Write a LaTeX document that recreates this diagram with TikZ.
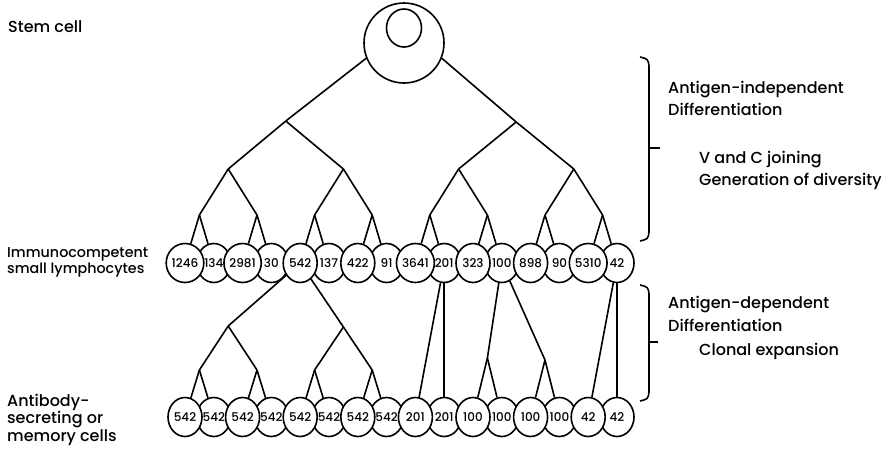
\documentclass[tikz,border=0pt]{standalone}
\usepackage{fontspec}
\setmainfont{Poppins Medium}
\usetikzlibrary{shapes.geometric}
\begin{document}
\begin{tikzpicture}[x=1pt,y=-1pt,
  cell/.style={ellipse,draw,line width=1.6pt,fill=white,minimum width=34pt,minimum height=39pt,inner sep=0pt,font=\fontsize{12}{12}\selectfont},
  link/.style={line width=1.6pt},
  brace/.style={line width=1.6pt},
  lbl/.style={anchor=base west,inner sep=0pt,font=\fontsize{16}{18}\selectfont},
  lbls/.style={lbl,font=\fontsize{14.3}{16}\selectfont}]
\useasboundingbox (0,0) rectangle (889,448);
% stem cell
\node[circle,draw,line width=1.6pt,minimum size=80pt,inner sep=0pt] (root) at (404,43) {};
\node[ellipse,draw,line width=1.6pt,minimum width=35pt,minimum height=38pt,inner sep=0pt] (nuc) at (404,28) {};
% top row (behind, then front)
\foreach \i/\t in {2/134,4/30,6/137,8/91,10/201,12/100,14/90,16/42}
  \node[cell] (t\i) at ({185+28.8*(\i-1)},263) {\t};
\foreach \i/\t in {1/1246,3/2981,5/542,7/422,9/3641,11/323,13/898,15/5310}
  \node[cell] (t\i) at ({185+28.8*(\i-1)},263) {\t};
% bottom row
\foreach \i/\t in {2/542,4/542,6/542,8/542,10/201,12/100,14/100,16/42}
  \node[cell] (b\i) at ({185+28.8*(\i-1)},417) {\t};
\foreach \i/\t in {1/542,3/542,5/542,7/542,9/201,11/100,13/100,15/42}
  \node[cell] (b\i) at ({185+28.8*(\i-1)},417) {\t};
% upper tree junctions
\coordinate (r1) at (285.8,121);
\coordinate (r2) at (516.2,122);
\foreach \k/\x in {1/228.2,2/343.4,3/458.6,4/573.8}
  \coordinate (a\k) at (\x,169);
\foreach \k/\x in {1/199.4,2/257,3/314.6,4/372.2,5/429.8,6/487.4,7/545,8/602.6}
  \coordinate (c\k) at (\x,215);
\draw[link] (root.-158) -- (r1);
\draw[link] (root.-22) -- (r2);
\draw[link] (r1) -- (a1);
\draw[link] (r1) -- (a2);
\draw[link] (r2) -- (a3);
\draw[link] (r2) -- (a4);
\foreach \k/\u/\v in {1/1/2,2/3/4,3/5/6,4/7/8}{
  \draw[link] (a\k) -- (c\u);
  \draw[link] (a\k) -- (c\v);
}
\foreach \k in {1,...,8}{
  \pgfmathtruncatemacro{\u}{2*\k-1}
  \pgfmathtruncatemacro{\v}{2*\k}
  \draw[link] (c\k) -- (t\u);
  \draw[link] (c\k) -- (t\v);
}
% lower tree
\coordinate (m1) at (228.2,326);
\coordinate (m2) at (343.4,327);
\foreach \k/\x in {1/199.4,2/257,3/314.6,4/372.2}
  \coordinate (n\k) at (\x,370);
\draw[link] (t5) -- (m1);
\draw[link] (t5) -- (m2);
\draw[link] (m1) -- (n1);
\draw[link] (m1) -- (n2);
\draw[link] (m2) -- (n3);
\draw[link] (m2) -- (n4);
\foreach \k in {1,...,4}{
  \pgfmathtruncatemacro{\u}{2*\k-1}
  \pgfmathtruncatemacro{\v}{2*\k}
  \draw[link] (n\k) -- (b\u);
  \draw[link] (n\k) -- (b\v);
}
\draw[link] (t10) -- (b9);
\draw[link] (t10) -- (b10);
\coordinate (p1) at (487.4,358);
\coordinate (p2) at (545,360);
\draw[link] (t12) -- (p1);
\draw[link] (t12) -- (p2);
\draw[link] (p1) -- (b11);
\draw[link] (p1) -- (b12);
\draw[link] (p2) -- (b13);
\draw[link] (p2) -- (b14);
\draw[link] (t16) -- (b15);
\draw[link] (t16) -- (b16);
% braces
\draw[brace] (640,57) .. controls (648,59) .. (649,66) -- (649,232) .. controls (648,239) .. (640,241);
\draw[brace] (649,148) -- (660,148);
\draw[brace] (640,285) .. controls (648,287) .. (649,294) -- (649,392) .. controls (648,399) .. (640,401);
\draw[brace] (649,342) -- (658,342);
% labels
\node[lbl] (l1) at (8,32) {Stem cell};
\node[lbls] (l2) at (7,257.5) {Immunocompetent};
\node[lbls] (l3) at (7,273.5) {small lymphocytes};
\node[lbl] (l4) at (7,406) {Antibody-};
\node[lbl] (l5) at (7,423) {secreting or};
\node[lbl] (l6) at (7,441) {memory cells};
\node[lbl] (l7) at (668,93) {Antigen-independent};
\node[lbl] (l8) at (668,115) {Differentiation};
\node[lbl] (l9) at (699,163) {V and C joining};
\node[lbl] (l10) at (699,185) {Generation of diversity};
\node[lbl] (l11) at (668,308) {Antigen-dependent};
\node[lbl] (l12) at (668,331) {Differentiation};
\node[lbl] (l13) at (699,355) {Clonal expansion};
\end{tikzpicture}
\end{document}
